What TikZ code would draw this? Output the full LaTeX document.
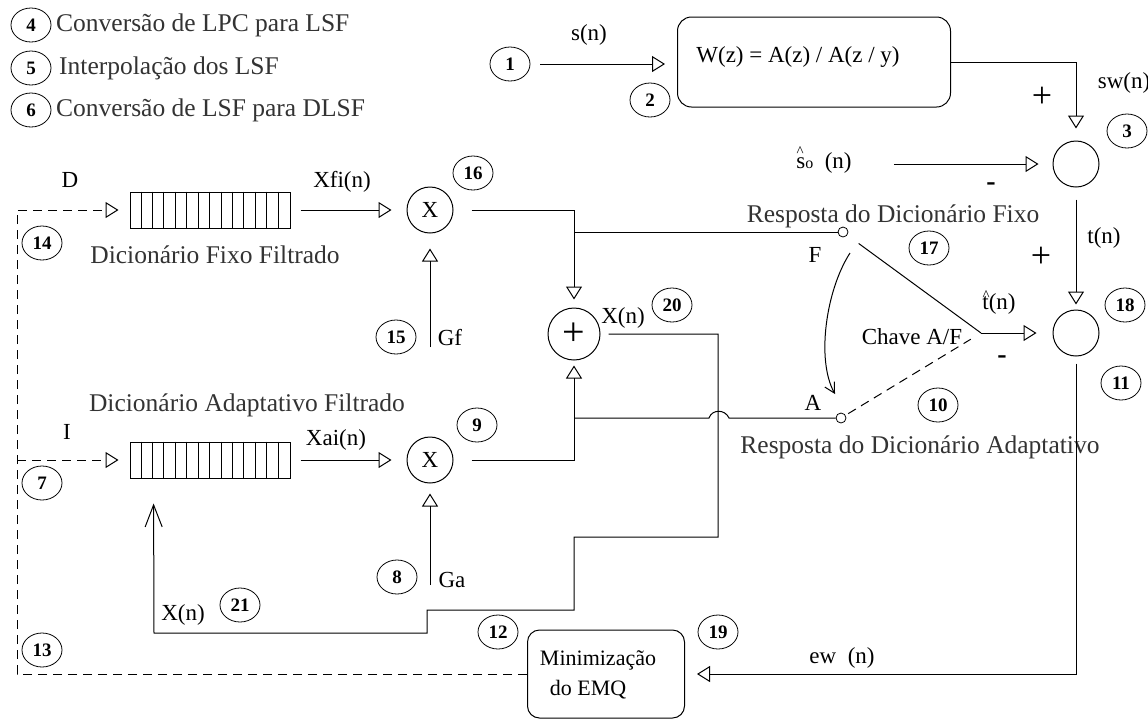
\documentclass[tikz,border=0pt]{standalone}
\usepackage{fontspec}
\setmainfont{Liberation Serif}
\usetikzlibrary{arrows.meta,shapes.geometric,calc}
\newcommand{\hatover}[2][8pt]{\makebox[0pt][l]{\hspace{0.3pt}\raisebox{#1}{\fontsize{15}{15}\selectfont\textasciicircum}}#2}
\begin{document}
\begin{tikzpicture}[x=1pt,y=-1pt,
  wire/.style={line width=1pt},
  tri/.style={wire,-{Triangle[open,length=13pt,width=16pt,line width=1pt]}},
  barb/.style={wire,-{Straight Barb[length=10pt,width=11pt,line width=1pt]}},
  bigbarb/.style={wire,-{Straight Barb[length=22pt,width=17pt,line width=1pt]}},
  dsh/.style={wire,dash pattern=on 9pt off 6pt},
  num/.style={draw,line width=0.8pt,ellipse,inner sep=0pt,minimum width=40pt,minimum height=34pt,font=\fontsize{19}{19}\selectfont\bfseries},
  big/.style={inner sep=0pt,font=\fontsize{25.5}{28}\selectfont,text=black!80},
  lab/.style={inner sep=0pt,font=\fontsize{23}{25}\selectfont},
  sgn/.style={inner sep=0pt,font=\fontsize{36}{36}\selectfont},
  minus/.style={inner sep=0pt,font=\fontsize{28}{28}\selectfont\bfseries},
  sum/.style={draw,line width=1pt,circle,minimum size=46pt,inner sep=0pt},
  mult/.style={draw,line width=1pt,circle,minimum size=46pt,inner sep=0pt,font=\fontsize{23}{25}\selectfont},
  contact/.style={draw,line width=0.8pt,circle,minimum size=10pt,inner sep=0pt},
  reg/.style={draw,line width=1pt,minimum width=160pt,minimum height=36pt,inner sep=0pt},
  rbox/.style={draw,line width=1pt,rounded corners=14pt,inner sep=0pt},
]
\useasboundingbox (0,0) rectangle (1148,721);

% legend
\node[num] (n4) at (31,25) {4};
\node[big,anchor=west] (t4) at (56,25) {Conversão de LPC para LSF};
\node[num] (n5) at (31,68) {5};
\node[big,anchor=west] (t5) at (59,68) {Interpolação dos LSF};
\node[num] (n6) at (31,110) {6};
\node[big,anchor=west] (t6) at (56,110) {Conversão de LSF para DLSF};

% top row
\node[num] (n1) at (510,64) {1};
\node[lab] (sn) at (589,35) {s(n)};
\node[rbox,minimum width=273pt,minimum height=90pt] (wbox) at (814,62) {};
\node[lab] (wtxt) at (798,57) {W(z) = A(z) / A(z / y)};
\node[num] (n2) at (650,100) {2};
\node[sum] (s3) at (1076,164) {};
\node[num] (n3) at (1127,131) {3};
\node[lab] (swn) at (1124,83) {sw(n)};
\node[sgn] (p1) at (1042,97) {+};
\node[lab] (so) at (824,160) {\hatover[12pt]{s}{\fontsize{16}{16}\selectfont o}\ \ (n)};
\node[minus] (m1) at (991,187) {-};
\draw[tri,shorten <=10pt,shorten >=12pt] (n1.east) -- (n1.east -| wbox.west);
\draw[tri,shorten >=12pt] (wbox.east) -| (s3.north);
\draw[tri,shorten <=42pt,shorten >=14pt] (so.east |- s3) -- (s3.west);

% fixed dictionary
\node[reg] (bd) at (210,210) {};
\foreach \i in {1,...,13} {\draw[line width=0.8pt] ($(bd.north west)+(\i*160/14,0)$) -- ($(bd.south west)+(\i*160/14,0)$);}
\node[lab] (D) at (70,180) {D};
\node[num] (n14) at (42,243) {14};
\node[big] (dff) at (215,255) {Dicionário Fixo Filtrado};
\node[lab] (xfi) at (342,182) {Xfi(n)};
\node[mult] (x16) at (430,210) {X};
\node[num] (n16) at (473,173) {16};
\node[num] (n15) at (396,337) {15};
\node[lab] (gf) at (450,338) {Gf};
\coordinate (gfs) at (430,347);
\draw[tri,shorten >=15pt] (gfs) -- (x16.south);
\draw[tri,shorten <=10pt,shorten >=15pt] (bd.east) -- (x16.west);

% adder
\node[mult,minimum size=52pt,font=\fontsize{40}{40}\selectfont] (plus) at (574,334) {+};
\node[lab] (xn1) at (623,318) {X(n)};
\node[num] (n20) at (672,305) {20};
\draw[tri,shorten <=18pt,shorten >=8pt] (x16.east) -| (plus.north);
\node[contact] (cF) at (843,232) {};
\draw[wire] (plus.north |- cF) -- (cF.west);
\node[big] (rdf) at (893,216) {Resposta do Dicionário Fixo};
\node[lab] (F) at (815,255) {F};
\node[num] (n17) at (929,248) {17};
\coordinate (swp) at (981,333);
\draw[wire,shorten <=14pt] (cF) -- (swp);
\node[lab] (chave) at (912,337) {Chave A/F};
\node[lab] (that) at (999,303) {\hatover[9pt]{t}(n)};

% adaptive dictionary
\node[reg] (ba) at (210,460) {};
\foreach \i in {1,...,13} {\draw[line width=0.8pt] ($(ba.north west)+(\i*160/14,0)$) -- ($(ba.south west)+(\i*160/14,0)$);}
\node[big] (daf) at (247,405) {Dicionário Adaptativo Filtrado};
\node[lab] (I) at (67,432) {I};
\node[num] (n7) at (42,483) {7};
\node[lab] (xai) at (336,440) {Xai(n)};
\node[mult] (x9) at (430,460) {X};
\node[num] (n9) at (477,425) {9};
\node[num] (n8) at (397,577) {8};
\node[lab] (ga) at (452,580) {Ga};
\coordinate (gas) at (430,585);
\draw[tri,shorten >=10pt] (gas) -- (x9.south);
\draw[tri,shorten <=10pt,shorten >=15pt] (ba.east) -- (x9.west);
\draw[tri,shorten <=18pt,shorten >=5pt] (x9.east) -| (plus.south);
\node[contact] (cA) at (841,418) {};
\draw[wire] (plus.south |- cA) -- (709,418) .. controls (712,409) and (725,409) .. (729,418) -- (cA.west);
\node[lab] (A) at (813,403) {A};
\node[big] (rda) at (920,447) {Resposta do Dicionário Adaptativo};
\node[num] (n10) at (938,405) {10};
\draw[dsh,shorten <=3pt,shorten >=12pt] (cA) -- (swp);
\draw[barb] ($(cF)+(7,21)$) .. controls (826,290) and (816,360) .. ($(cA)+(-6,-24)$);

% right column
\node[sum] (s18) at (1076,333) {};
\node[num] (n18) at (1125,305) {18};
\node[num] (n11) at (1121,383) {11};
\node[lab] (tn) at (1104,238) {t(n)};
\node[sgn] (p2) at (1041,257) {+};
\node[minus] (m2) at (1002,360) {-};
\draw[tri,shorten <=12pt,shorten >=5pt] (s3.south) -- (s18.north);
\draw[tri,shorten >=16pt] (swp) -- (s18.west);

% minimisation
\node[rbox,rounded corners=12pt,minimum width=157pt,minimum height=88pt] (minbox) at (606,674) {};
\node[inner sep=0pt,align=left,font=\fontsize{22}{30}\selectfont] (mintxt) at (598,675) {Minimização\\\hspace{10pt}do EMQ};
\node[num] (n19) at (718,632) {19};
\node[lab] (ew) at (842,658) {ew\ \ (n)};
\node[num] (n12) at (498,632) {12};
\draw[tri,shorten <=7pt,shorten >=12pt] (s18.south) |- (minbox.east);

% dashed feedback
\coordinate (dtop) at (17,210);
\coordinate (dmid) at (17,460);
\draw[dsh,-{Triangle[open,length=13pt,width=16pt,line width=1pt]},shorten >=11pt] (minbox.west) -| (dtop) -- (bd.west);
\draw[dsh,-{Triangle[open,length=13pt,width=16pt,line width=1pt]},shorten >=11pt] (dmid) -- (ba.west);
\node[num] (n13) at (42,650) {13};

% X(n) feedback
\node[lab] (xn2) at (183,615) {X(n)};
\node[num] (n21) at (240,605) {21};
\draw[bigbarb,shorten <=8pt,shorten >=25pt] (plus.east) -- (718,334) -- (718,537) -- (574,537) -- (574,610) -- (427,610) -- (427,633) -- (154,633) -- ($(ba.south west)+(24,0)$);
\end{tikzpicture}
\end{document}
